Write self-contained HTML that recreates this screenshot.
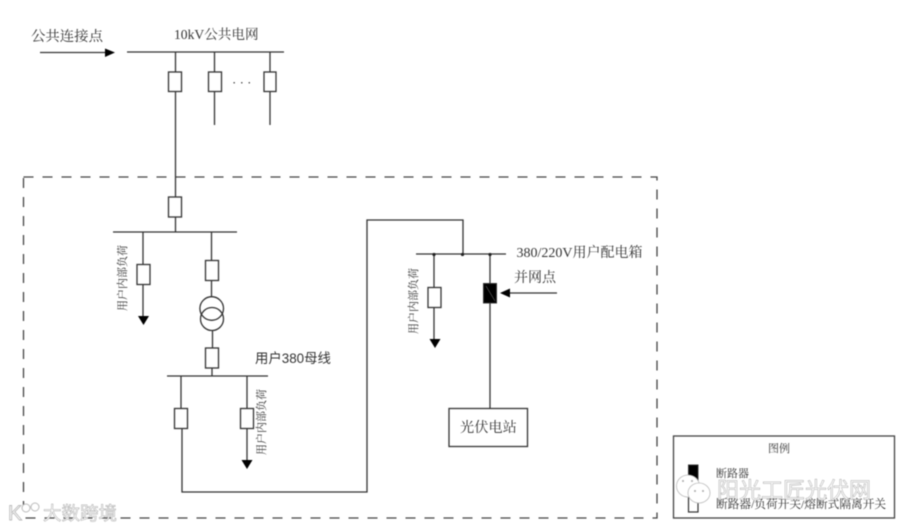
<!DOCTYPE html>
<html lang="zh">
<head>
<meta charset="utf-8">
<title>光伏并网接线图</title>
<style>
html,body{margin:0;padding:0;background:#fff;width:900px;height:531px;overflow:hidden}
svg{display:block;filter:blur(.45px)}
text{font-family:"Liberation Serif","Noto Serif CJK SC",serif;fill:#333}
.l{stroke:#333;stroke-width:1.3;fill:none}
.b{stroke:#333;stroke-width:1.3;fill:#fff}
.a{fill:#000;stroke:none}
</style>
</head>
<body>
<svg width="900" height="531" viewBox="0 0 900 531" xmlns="http://www.w3.org/2000/svg">
<rect x="23.5" y="177" width="633.5" height="341" fill="none" stroke="#444" stroke-width="1.3" stroke-dasharray="10 9"/>

<!-- top -->
<text x="31" y="41" font-size="14.400">公共连接点</text>
<path class="l" d="M40 52.5H108"/>
<path class="a" d="M105 48.5L115 52.5L105 57Z"/>
<text x="174" y="39" font-size="13.600">10kV公共电网</text>
<path class="l" d="M127 52H284M175.5 52V232M214.5 52V125M270 52V125"/>
<rect class="b" x="168.500" y="72" width="13" height="19.500"/>
<rect class="b" x="208.500" y="72" width="13" height="19.500"/>
<rect class="b" x="264" y="72" width="12" height="19.500"/>
<text x="232" y="87" font-size="13">· · ·</text>

<!-- first user bus -->
<rect class="b" x="168.500" y="197" width="13" height="20"/>
<path class="l" d="M113 232H237M143 232V316M211.5 232V297M212.500 330V348M212 368V376"/>
<rect class="b" x="137" y="264.500" width="13" height="20"/>
<path class="a" d="M138 316H149L143.500 325Z"/>
<rect class="b" x="205.500" y="260.500" width="13" height="20"/>
<circle cx="211.700" cy="308.500" r="11.800" fill="none" stroke="#333" stroke-width="1.3"/>
<circle cx="212" cy="319" r="11.500" fill="none" stroke="#333" stroke-width="1.3"/>
<rect class="b" x="205.500" y="348" width="13" height="20"/>
<text font-size="11" transform="translate(126 311) rotate(-90)">用户内部负荷</text>

<!-- 380 bus -->
<text x="255" y="363" font-size="13.400" style="font-family:'Liberation Sans','Noto Sans CJK SC',sans-serif">用户380母线</text>
<path class="l" d="M167 376H268M181 376V408M182 429V492H367V220H463V254M247 376V460"/>
<rect class="b" x="174.500" y="408.500" width="13" height="20"/>
<rect class="b" x="240.500" y="408.500" width="13" height="20"/>
<path class="a" d="M241.500 460H252.500L247 469Z"/>
<text font-size="11" transform="translate(265 455) rotate(-90)">用户内部负荷</text>

<!-- right bus -->
<path class="l" d="M416 254H506M434 254V339M490 254V408"/>
<circle cx="434" cy="254.500" r="1.600" fill="#222"/>
<circle cx="462.500" cy="254.500" r="1.600" fill="#222"/>
<circle cx="490" cy="254.500" r="1.600" fill="#222"/>
<text x="516.500" y="257" font-size="14">380/220V用户配电箱</text>
<text x="514" y="282" font-size="14">并网点</text>
<rect class="b" x="428" y="287.500" width="13" height="20"/>
<path class="a" d="M429.500 339H440.500L435 348Z"/>
<text font-size="11" transform="translate(417 334) rotate(-90)">用户内部负荷</text>
<rect x="483.500" y="283.500" width="13" height="19.500" fill="#000" stroke="#333"/>
<path d="M486 286L495 301" stroke="#666" stroke-width=".6"/>
<path class="l" d="M506 293H557"/>
<path class="a" d="M500 293L510 288.500V297.500Z"/>
<rect class="b" x="449" y="408.500" width="78.500" height="38"/>
<text x="460" y="432" font-size="14.200">光伏电站</text>

<!-- legend -->
<rect x="673.500" y="436" width="221" height="82" fill="#fff" stroke="#444" stroke-width="1.300"/>
<text x="768" y="452" font-size="11">图例</text>
<rect x="688.500" y="465" width="9.500" height="17" fill="#000" stroke="#333"/>
<text x="716" y="477" font-size="11">断路器</text>
<rect x="688.500" y="496" width="9.500" height="16" fill="#fff" stroke="#333" stroke-width="1.200"/>
<text x="716" y="508" font-size="11.700">断路器/负荷开关/熔断式隔离开关</text>

<!-- watermarks -->
<g fill="#fff" stroke="#bbb" stroke-width=".8">
<ellipse cx="688" cy="486" rx="11.500" ry="11"/>
<ellipse cx="699" cy="493" rx="11" ry="10"/>
</g>
<g fill="#aaa">
<circle cx="683" cy="481" r="1"/><circle cx="692" cy="481" r="1"/>
<circle cx="695" cy="491" r="1"/><circle cx="703" cy="491" r="1"/>
</g>
<text x="717" y="498" font-size="22" style="font-family:'Liberation Sans','Noto Sans CJK SC',sans-serif;fill:#fff;stroke:#aaa;stroke-width:.5">阳光工匠光伏网</text>
<text x="8" y="520" font-size="21" style="font-family:'Liberation Sans',sans-serif;fill:#fff;stroke:#bbb;stroke-width:.9">K</text>
<circle cx="26" cy="508" r="4" fill="#fff" stroke="#bbb"/>
<circle cx="35" cy="507" r="4" fill="#fff" stroke="#bbb"/>
<text x="43" y="520" font-size="18.500" style="font-family:'Liberation Sans','Noto Sans CJK SC',sans-serif;fill:#fff;stroke:#aaa;stroke-width:.5">大数跨境</text>
</svg>
</body>
</html>
